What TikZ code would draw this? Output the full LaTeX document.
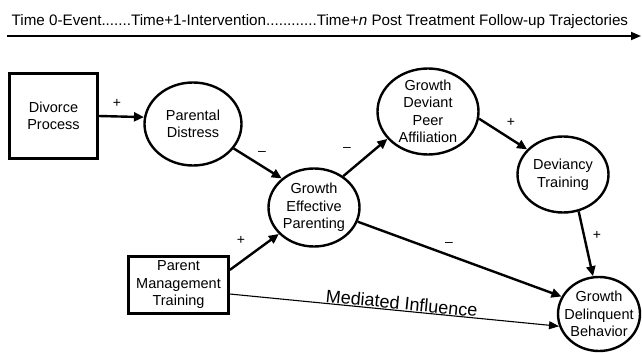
\documentclass[tikz,border=0pt]{standalone}
\usepackage{fontspec}
\setmainfont{Liberation Sans}
\usetikzlibrary{shapes.geometric,arrows.meta}
\begin{document}
\begin{tikzpicture}[x=1pt,y=-1pt,
  txt/.style={font=\fontsize{14.5}{17.5}\selectfont, align=center},
  boxnode/.style={txt, draw, line width=2.4pt, rectangle, inner sep=0pt},
  ell/.style={txt, draw, line width=2.4pt, ellipse, inner sep=-8pt},
  conn/.style={line width=2.4pt, -{Triangle[length=10pt,width=9pt]}},
  thinconn/.style={line width=1.1pt, -{Triangle[length=10pt,width=8pt]}},
  sign/.style={font=\fontsize{14}{14}\selectfont, anchor=base, inner sep=0pt},
]
\useasboundingbox (0,0) rectangle (642,353);

% time line
\node[anchor=base west, inner sep=0pt, font=\fontsize{15.2}{15.2}\selectfont] (title) at (11.5,25.5)
  {Time 0-Event.......Time+1-Intervention............Time+\textit{n} Post Treatment Follow-up Trajectories};
\coordinate (t0) at (7,36);
\coordinate (t1) at (641,36);
\draw[line width=1.8pt, -{Triangle[length=10pt,width=8pt]}] (t0) -- (t1);

% nodes
\node[boxnode, minimum width=88pt, minimum height=85pt] (DP) at (53.5,116) {Divorce\\Process};
\node[boxnode, minimum width=100pt, minimum height=57pt] (PMT) at (178.5,285) {Parent\\Management\\Training};
\node[ell, minimum width=97pt, minimum height=83pt] (PD) at (193,124) {Parental\\Distress};
\node[ell, minimum width=91pt, minimum height=78pt] (GEP) at (314,207.5) {Growth\\Effective\\Parenting};
\node[ell, minimum width=101pt, minimum height=86pt] (GDPA) at (428,111.5) {Growth\\Deviant\\Peer\\Affiliation};
\node[ell, minimum width=91pt, minimum height=76pt] (DT) at (563,174.5) {Deviancy\\Training};
\node[ell, minimum width=82pt, minimum height=74pt] (GDB) at (599,314) {Growth\\Delinquent\\Behavior};

% connectors
\draw[conn] (DP.east) -- (PD.172);
\draw[conn] (PD.-31) -- (GEP.138);
\draw[conn] (GEP.47) -- (GDPA.214);
\draw[conn] (GDPA.-8) -- (DT.145);
\draw[conn] (DT.-67) -- (GDB.99);
\draw[conn] (GEP.-18) -- (GDB.155);
\draw[conn] ([yshift=15pt]PMT.east) -- (GEP.217);
\draw[thinconn] ([yshift=-9pt]PMT.east) -- (GDB.197)
  node[pos=0.52, sloped, above, inner sep=0.5pt, font=\fontsize{18}{18}\selectfont] (med) {Mediated Influence};

% signs
\node[sign] (s1) at (117,107) {+};
\node[sign] (s2) at (262,155) {–};
\node[sign] (s3) at (347,151) {–};
\node[sign] (s4) at (511,126) {+};
\node[sign] (s5) at (597,239) {+};
\node[sign] (s6) at (449,246) {–};
\node[sign] (s7) at (241,244) {+};
\end{tikzpicture}
\end{document}
